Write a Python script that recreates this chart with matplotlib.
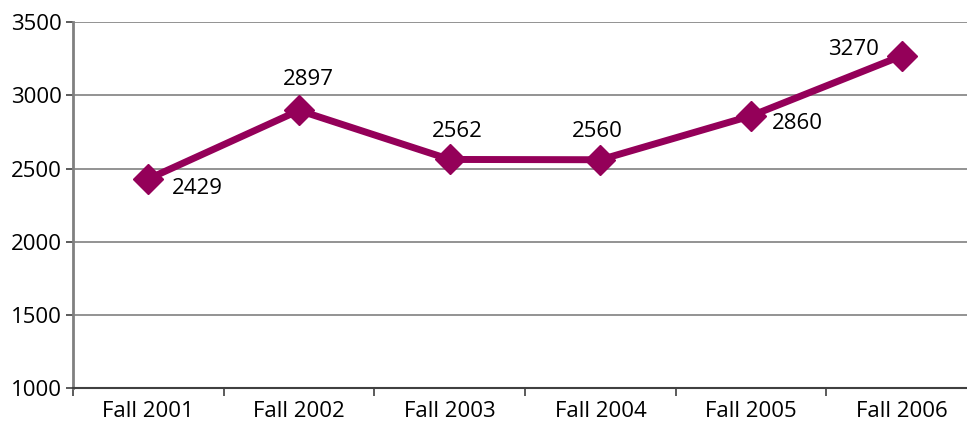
import matplotlib.pyplot as plt
import numpy as np

plt.rcParams['font.family'] = ['Open Sans', 'DejaVu Sans']

# 数据
categories = ['Fall 2001', 'Fall 2002', 'Fall 2003', 'Fall 2004', 'Fall 2005', 'Fall 2006']
values = [2429, 2897, 2562, 2560, 2860, 3270]
# 标签偏移(像素)
label_offsets = [(49, -10), (9, 31), (8, 28), (-3, 28), (46, -8), (-48, 6)]

color = '#940059'

fig = plt.figure(figsize=(9.67, 4.26), dpi=100)
ax = fig.add_axes([0.0755, 0.089, 0.935, 0.859])

x = np.arange(len(categories))
ax.plot(x, values, color=color, linewidth=5, marker='D', markersize=15.5,
        zorder=3, clip_on=False)

for xi, v, off in zip(x, values, label_offsets):
    ax.annotate(str(v), (xi, v), xytext=off, textcoords='offset pixels',
                ha='center', va='center', fontsize=16, zorder=4)

ax.set_ylim(1000, 3500)
ax.set_yticks(range(1000, 3501, 500))
ax.set_xlim(-0.5, 5.5)
ax.set_xticks(x)
ax.set_xticklabels(categories)
ax.set_xticks(np.arange(-0.5, 6, 1), minor=True)

ax.grid(axis='y', color='#808080', linewidth=1.2)
ax.set_axisbelow(True)

for s in ['top', 'right']:
    ax.spines[s].set_visible(False)
ax.spines['left'].set_color('#808080')
ax.spines['left'].set_linewidth(2)
ax.spines['bottom'].set_color('#404040')
ax.spines['bottom'].set_linewidth(1.5)

ax.tick_params(axis='x', which='major', length=0, labelsize=16, pad=9)
ax.tick_params(axis='x', which='minor', length=6, color='#404040', width=1.2)
ax.tick_params(axis='y', length=5, color='#404040', width=1.2, labelsize=16, pad=3)

plt.savefig('out.png', dpi=100)
